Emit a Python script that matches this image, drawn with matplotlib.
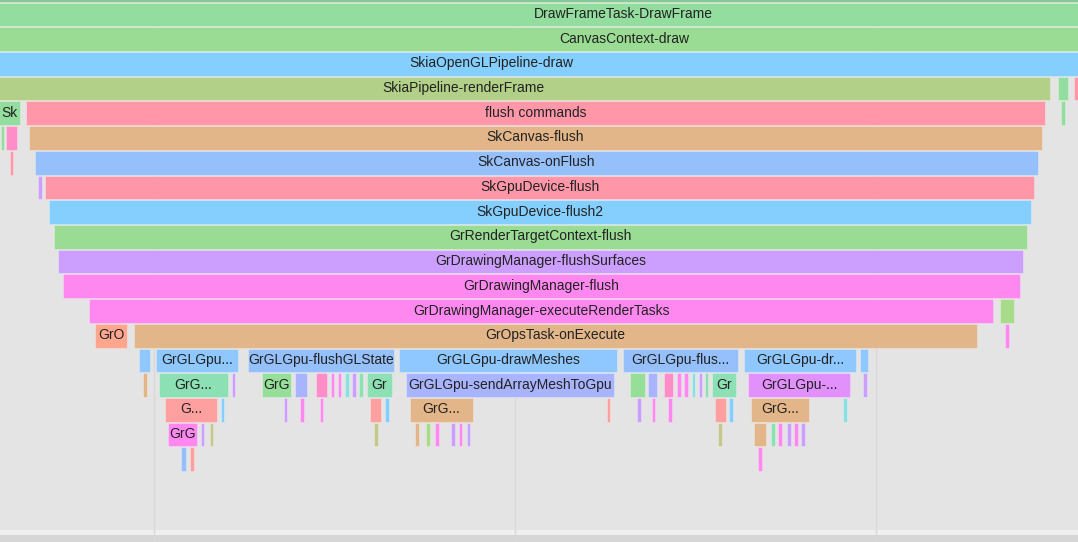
import matplotlib.pyplot as plt

# flame chart frames: name, depth (stack level), start / end time (trace units)
names = [
    "", "DrawFrameTask-DrawFrame", "CanvasContext-draw", "SkiaOpenGLPipeline-draw",
    "SkiaPipeline-renderFrame", "", "Sk",
    "Sk", "flush commands", "",
    "", "", "SkCanvas-flush",
    "", "SkCanvas-onFlush",
    "", "SkGpuDevice-flush",
    "SkGpuDevice-flush2",
    "GrRenderTargetContext-flush",
    "GrDrawingManager-flushSurfaces",
    "GrDrawingManager-flush",
    "GrDrawingManager-executeRenderTasks", "",
    "GrO", "GrOpsTask-onExecute", "",
    # depth 14
    "", "GrGLGpu...", "GrGLGpu-flushGLState", "GrGLGpu-drawMeshes", "GrGLGpu-flus...",
    "GrGLGpu-dr...", "",
    # depth 15
    "", "GrG...", "", "GrG", "", "", "", "", "", "", "", "Gr",
    "GrGLGpu-sendArrayMeshToGpu",
    "", "", "", "", "", "", "", "", "Gr", "GrGLGpu-...", "",
    # depth 16
    "G...", "", "", "", "", "", "", "GrG...", "", "", "", "", "", "", "GrG...", "",
    # depth 17
    "GrG", "", "", "", "", "", "", "", "", "", "", "", "", "", "", "", "",
    # depth 18
    "", "", "",
]
depths = [
    -1, 0, 1, 2,
    3, 3, 3,
    4, 4, 4,
    5, 5, 5,
    6, 6,
    7, 7,
    8,
    9,
    10,
    11,
    12, 12,
    13, 13, 13,
    14, 14, 14, 14, 14, 14, 14,
    15, 15, 15, 15, 15, 15, 15, 15, 15, 15, 15, 15, 15,
    15, 15, 15, 15, 15, 15, 15, 15, 15, 15, 15,
    16, 16, 16, 16, 16, 16, 16, 16, 16, 16, 16, 16, 16, 16, 16, 16,
    17, 17, 17, 17, 17, 17, 17, 17, 17, 17, 17, 17, 17, 17, 17, 17, 17,
    18, 18, 18,
]
starts = [
    -150, -150, -145, -135,
    -124, 1058, 1074,
    -1, 26, 1061,
    1, 6, 29,
    10, 35,
    38, 45,
    49,
    54,
    58,
    63,
    89, 1000,
    95, 134, 1005,
    139, 156, 248, 399, 623, 744, 860,
    143, 159, 232, 262, 295, 316, 331, 338, 345, 352, 359, 367, 406,
    630, 648, 664, 677, 684, 692, 699, 705, 712, 748, 863,
    165, 221, 284, 300, 320, 370, 385, 410, 607, 637, 652, 668, 715, 729, 751, 843,
    168, 201, 210, 374, 415, 426, 435, 451, 459, 467, 718, 754, 771, 778, 787, 794, 801,
    181, 190, 758,
]
ends = [
    1400, 1396, 1393, 1117,
    1050, 1068, 1096,
    20, 1045, 1065,
    4, 17, 1042,
    13, 1038,
    42, 1034,
    1031,
    1027,
    1023,
    1020,
    993, 1014,
    127, 977, 1009,
    150, 238, 394, 617, 738, 856, 868,
    147, 228, 235, 291, 307, 327, 334, 341, 349, 356, 363, 392, 614,
    645, 657, 673, 681, 688, 695, 702, 708, 736, 850, 867,
    217, 224, 287, 304, 323, 381, 389, 473, 610, 641, 655, 672, 726, 733, 809, 847,
    197, 204, 213, 378, 419, 430, 439, 455, 462, 470, 722, 766, 775, 782, 791, 798, 805,
    186, 194, 762,
]
color_keys = [
    "strip", "green", "green2", "sky",
    "olive", "green", "pink",
    "green", "pink", "green",
    "green", "hotpink", "tan",
    "pink", "blue",
    "lavender", "pink",
    "sky",
    "green2",
    "lavender",
    "magenta",
    "magenta", "lightgreen",
    "salmon", "tan", "magenta",
    "blue2", "blue2", "blue", "blue2", "blue", "blue2", "blue2",
    "tan", "mint", "lavender", "green3", "peri", "hotpink", "magenta", "magenta",
    "cyan", "lavender", "mint", "mint", "peri",
    "green3", "peri", "hotpink", "magenta", "magenta", "cyan", "lavender", "mint",
    "mint", "violet", "lavender",
    "red", "sky", "lavender", "magenta", "magenta", "red", "sky", "tan", "red",
    "lavender", "magenta", "magenta", "red", "sky", "tan", "cyan",
    "magenta", "lavender", "olive2", "olive2", "tan", "lightgreen", "magenta",
    "lavender", "magenta", "lavender", "olive2", "tan", "mint", "magenta",
    "lavender", "magenta", "lavender",
    "blue", "red", "magenta",
]
palette = {
    "strip": "#84c994", "green": "#93de9e", "green2": "#9bdc94", "sky": "#84cfff",
    "olive": "#b2d087", "pink": "#ff97a9", "tan": "#e2b688", "blue": "#96c0fb",
    "lavender": "#cc9fff", "magenta": "#ff88f0", "salmon": "#ffa68f",
    "blue2": "#8fc7ff", "mint": "#8ce0b4", "green3": "#96df98", "peri": "#a8b4fd",
    "violet": "#e290fc", "hotpink": "#ff8ec8", "cyan": "#8adfe0",
    "olive2": "#c4c98a", "lightgreen": "#a9dc8a", "red": "#ffa0a0",
}
grid_times = [154, 515, 876]

plt.rcParams['font.family'] = ['Liberation Sans', 'DejaVu Sans']

row_px = 24.72
top_px = 2.5
fig = plt.figure(figsize=(10.78, 5.42), dpi=100)
fig.patch.set_facecolor('#e4e4e4')
ax = fig.add_axes([0, 0, 1, 1])
ax.set_facecolor('#e4e4e4')
ax.set_xlim(0, 1078)
ax.set_ylim((542 - top_px) / row_px, -top_px / row_px)
ax.axis('off')

for t in grid_times:
    ax.axvline(t, color='#d9d9d9', lw=1, zorder=1)

# scrollbar-ish strip at the bottom
ax.axhspan((530 - top_px) / row_px, (535 - top_px) / row_px, color='#efefef', zorder=0.5, lw=0)
ax.axhspan((535 - top_px) / row_px, (542 - top_px) / row_px, color='#d6d6d6', zorder=0.5, lw=0)

for name, d, s, e, ck in zip(names, depths, starts, ends, color_keys):
    ax.barh(d + 0.48, e - s, left=s, height=0.96, color=palette[ck],
            edgecolor='#ffffff55', linewidth=0.6, zorder=2)
    if name:
        ax.text((s + e) / 2, d + 0.46, name, ha='center', va='center',
                fontsize=10, color='#222222', zorder=3, clip_on=True)

fig.savefig('out.png', dpi=100, facecolor=fig.get_facecolor())
